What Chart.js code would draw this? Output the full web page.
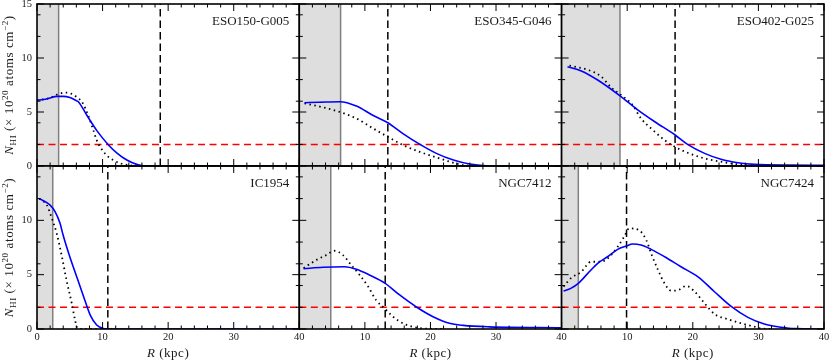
<!DOCTYPE html>
<html>
<head>
<meta charset="utf-8">
<script src="https://cdn.jsdelivr.net/npm/chart.js@4"></script>
<style>
  html, body { margin: 0; padding: 0; background: #fff; }
  #wrap { position: relative; width: 830px; height: 361px; }
  #wrap canvas { position: absolute; left: 0; top: 0; }
</style>
</head>
<body>
<div id="wrap"></div>
<script>
// ---- data ----
const galaxyNames = ['ESO150-G005', 'ESO345-G046', 'ESO402-G025', 'IC1954', 'NGC7412', 'NGC7424'];
const innerEdge = [3.3, 6.3, 8.9, 2.4, 4.8, 2.55];          // kpc, grey shaded zone
const opticalRadius = [18.8, 13.5, 17.3, 10.8, 13.1, 9.9];  // kpc, black dashed line
const limitNHI = 2;                                         // red dashed line

// blue = observed profile, dotted = model profile (R in kpc, N in 1e20 cm^-2)
const eso150R = [0, 1, 2, 3, 4, 5, 6, 6.3, 7.6, 9.1, 10.9, 12.2, 13.7, 15.2, 16.2, 20, 30, 40];
const eso150N = [6.1, 6.15, 6.3, 6.45, 6.45, 6.35, 6.05, 5.95, 4.7, 3.3, 1.95, 1.2, 0.55, 0.15, 0.02, 0, 0, 0];
const eso150ModR = [0, 2, 3, 4.3, 5.2, 5.8, 7.0, 7.8, 8.6, 9.1, 9.6, 10.6, 11.6, 12.7, 13.7, 15, 20, 28];
const eso150ModN = [6.1, 6.3, 6.6, 6.8, 6.7, 6.5, 5.8, 4.7, 3.3, 2.4, 1.8, 1.0, 0.55, 0.25, 0.1, 0.02, 0, 0];

const eso345R = [0.8, 3, 6.2, 8.7, 11.2, 13.5, 15.8, 18.4, 20.9, 23.5, 26, 28.5, 32, 40];
const eso345N = [5.86, 5.9, 5.95, 5.55, 4.7, 4.0, 3.0, 2.0, 1.17, 0.55, 0.18, 0.03, 0, 0];
const eso345ModR = [0.8, 3.6, 6.2, 8.7, 11.2, 13.5, 15.8, 18.4, 20.9, 23.5, 25.5, 28];
const eso345ModN = [5.8, 5.43, 5.0, 4.4, 3.5, 2.7, 1.94, 1.3, 0.8, 0.3, 0.05, 0];

const eso402R = [0.9, 3.0, 5.5, 8.9, 11.6, 14.2, 17.3, 19.2, 21.8, 24.3, 26.9, 29.4, 34.5, 40];
const eso402N = [9.2, 8.8, 7.96, 6.5, 5.2, 4.1, 2.87, 2.0, 1.17, 0.62, 0.3, 0.15, 0.08, 0.07];
const eso402ModR = [1.2, 4.0, 6.0, 7.5, 9.0, 10.8, 12.1, 13.6, 15.7, 17.2, 19.2, 21.8, 24.3, 26.9, 28.4, 30];
const eso402ModN = [9.3, 8.9, 8.3, 7.3, 6.6, 5.65, 4.4, 3.5, 2.4, 1.8, 1.23, 0.7, 0.4, 0.15, 0.05, 0];

const ic1954R = [0.35, 2.0, 2.75, 3.5, 4.0, 5.0, 6.06, 7.1, 8.1, 9.1, 10.1, 11, 40];
const ic1954N = [12.0, 11.4, 10.8, 9.75, 8.6, 6.65, 4.8, 3.0, 1.3, 0.37, 0.05, 0, 0];
const ic1954ModR = [0.35, 1.5, 2.2, 3.0, 3.8, 4.5, 5.3, 5.8, 6.15, 7, 12];
const ic1954ModN = [12.0, 11.4, 10.3, 8.8, 6.65, 4.5, 2.36, 0.83, 0.1, 0, 0];

const ngc7412R = [0.65, 3.6, 6.9, 8.7, 10.7, 13.1, 15.3, 17.8, 20.4, 22.9, 25, 29, 40];
const ngc7412N = [5.55, 5.68, 5.73, 5.5, 4.97, 4.2, 3.13, 2.05, 1.13, 0.52, 0.33, 0.2, 0.12];
const ngc7412ModR = [0.65, 2.6, 4.1, 5.4, 6.65, 7.9, 9.2, 10.5, 11.7, 13.1, 14.3, 15.8, 17.3, 19, 22];
const ngc7412ModN = [5.6, 6.35, 6.8, 7.2, 6.8, 5.9, 4.97, 3.9, 2.67, 1.84, 1.13, 0.52, 0.2, 0.05, 0];

const ngc7424R = [0.3, 1.4, 2.55, 4.0, 5.5, 7.0, 8.55, 9.9, 10.8, 12.1, 13.65, 15.7, 18.2, 20.8, 23.3, 25.9, 28.4, 30.9, 33.5, 35.5, 40];
const ngc7424N = [3.5, 3.74, 4.2, 5.12, 6.04, 6.65, 7.33, 7.64, 7.82, 7.73, 7.33, 6.65, 5.73, 4.8, 3.43, 2.05, 1.07, 0.46, 0.16, 0.03, 0];
const ngc7424ModR = [0.3, 1.4, 3.0, 4.5, 6.0, 7.3, 8.55, 9.6, 10.3, 11.9, 12.9, 13.65, 14.7, 15.7, 16.7, 17.8, 19.0, 20.3, 21.8, 23.3, 25.4, 27.4, 29.4, 30.4, 32];
const ngc7424ModN = [3.9, 4.66, 5.27, 6.19, 6.19, 6.65, 7.57, 8.56, 9.26, 9.05, 8.19, 6.96, 5.43, 4.2, 3.52, 3.59, 3.96, 3.43, 2.36, 1.38, 0.89, 0.52, 0.21, 0.05, 0];

const profiles = [
  [eso150R, eso150N, eso150ModR, eso150ModN],
  [eso345R, eso345N, eso345ModR, eso345ModN],
  [eso402R, eso402N, eso402ModR, eso402ModN],
  [ic1954R, ic1954N, ic1954ModR, ic1954ModN],
  [ngc7412R, ngc7412N, ngc7412ModR, ngc7412ModN],
  [ngc7424R, ngc7424N, ngc7424ModR, ngc7424ModN],
];

// ---- layout ----
const W = 830, H = 361;
const colEdges = [37, 299.3, 561.6, 824];
const rowEdges = [4, 166, 329];
const SERIF = '"Liberation Serif", "DejaVu Serif", serif';
const TXT = '#1a1a1a';

function pts(rs, ns) {
  return rs.map((r, i) => ({ x: r, y: ns[i] }));
}

// draw a run of text pieces (italic, sub, sup) centred on cx at baseline by
function richText(ctx, runs, cx, by, size, spacing) {
  const fontFor = s => s === 'i' ? `italic ${size}px ${SERIF}`
    : (s === 'sub' || s === 'sup') ? `${Math.round(size * 0.72)}px ${SERIF}` : `${size}px ${SERIF}`;
  const gap = spacing || 0;
  const widthOf = t => ctx.measureText(t).width + gap * t.length;
  let total = 0;
  for (const r of runs) { ctx.font = fontFor(r.s); total += widthOf(r.t); }
  let x = cx - total / 2;
  ctx.textAlign = 'left';
  ctx.textBaseline = 'alphabetic';
  for (const r of runs) {
    ctx.font = fontFor(r.s);
    const dy = r.s === 'sub' ? 3 : r.s === 'sup' ? -5 : 0;
    for (const ch of r.t) {
      ctx.fillText(ch, x, by + dy);
      x += ctx.measureText(ch).width + gap;
    }
  }
}

const yTitle = [
  { t: 'N', s: 'i' }, { t: 'HI', s: 'sub' }, { t: ' (× 10' }, { t: '20', s: 'sup' },
  { t: ' atoms cm' }, { t: '−2', s: 'sup' }, { t: ')' }
];
const xTitle = [{ t: 'R', s: 'i' }, { t: ' (kpc)' }];

const decor = {
  id: 'decor',
  afterDraw(chart, args, opts) {
    const { ctx, chartArea: a, scales: { x, y } } = chart;
    ctx.save();
    ctx.strokeStyle = '#000';
    ctx.lineWidth = 1;
    ctx.beginPath();
    for (let v = 0; v <= 40; v += 2) {
      const px = x.getPixelForValue(v);
      const len = v % 10 === 0 ? 7 : 3.5;
      ctx.moveTo(px, a.bottom); ctx.lineTo(px, a.bottom - len);
      ctx.moveTo(px, a.top); ctx.lineTo(px, a.top + len);
    }
    for (const v of [0, 2, 4, 5, 6, 8, 10, 12, 14, 15]) {
      const py = y.getPixelForValue(v);
      const len = v % 5 === 0 ? 7 : 3.5;
      ctx.moveTo(a.left, py); ctx.lineTo(a.left + len, py);
      ctx.moveTo(a.right, py); ctx.lineTo(a.right - len, py);
    }
    ctx.stroke();
    ctx.lineWidth = 1.6;
    ctx.strokeRect(a.left, a.top, a.right - a.left, a.bottom - a.top);

    ctx.fillStyle = TXT;
    ctx.font = `13px ${SERIF}`;
    ctx.textAlign = 'right';
    ctx.textBaseline = 'middle';
    ctx.fillText(opts.name, a.right - 10, a.top + 17.5);

    if (opts.col === 0) {
      ctx.save();
      ctx.translate(13, (a.top + a.bottom) / 2);
      ctx.rotate(-Math.PI / 2);
      richText(ctx, yTitle, 0, 0, 13, 0.6);
      ctx.restore();
    }
    if (opts.row === 1) {
      richText(ctx, xTitle, (a.left + a.right) / 2, 357, 13, 0.5);
    }
    ctx.restore();
  }
};

// pin each scale box so the plot area lands exactly on the panel rectangle
function pin(size) {
  return s => {
    if (s.isHorizontal()) s.height = size; else s.width = size;
    s.paddingTop = 0; s.paddingBottom = 0; s.paddingLeft = 0; s.paddingRight = 0;
  };
}

const wrap = document.getElementById('wrap');

galaxyNames.forEach((name, i) => {
  const row = Math.floor(i / 3), col = i % 3;
  const cv = document.createElement('canvas');
  cv.width = W; cv.height = H;
  cv.style.width = W + 'px'; cv.style.height = H + 'px';
  wrap.appendChild(cv);

  const [bR, bN, mR, mN] = profiles[i];
  const edge = innerEdge[i], ropt = opticalRadius[i];

  new Chart(cv, {
    type: 'line',
    data: {
      datasets: [
        { data: pts(bR, bN), borderColor: '#0000ff', borderWidth: 1.6, cubicInterpolationMode: 'monotone', order: 1 },
        { data: pts(mR, mN), borderColor: '#000', borderWidth: 1.8, borderDash: [1.5, 3.5], cubicInterpolationMode: 'monotone', order: 2 },
        { data: pts([ropt, ropt], [0, 15]), borderColor: '#000', borderWidth: 1.5, borderDash: [7.5, 4], order: 3 },
        { data: pts([0, 40], [limitNHI, limitNHI]), borderColor: '#ff0000', borderWidth: 1.5, borderDash: [7, 4.5], order: 4 },
        { data: pts([edge, edge], [0, 15]), borderColor: '#808080', borderWidth: 1.5, order: 5 },
        { data: pts([0, edge], [15, 15]), borderWidth: 0, backgroundColor: '#dedede', fill: 'origin', order: 6 },
      ]
    },
    options: {
      responsive: false,
      animation: false,
      devicePixelRatio: 1,
      layout: {
        padding: {
          left: 0, right: W - colEdges[col + 1],
          top: rowEdges[row], bottom: 0
        }
      },
      elements: { point: { radius: 0 }, line: { tension: 0 } },
      plugins: {
        legend: { display: false },
        tooltip: { enabled: false },
        decor: { name, row, col }
      },
      scales: {
        x: {
          type: 'linear', min: 0, max: 40,
          grid: { display: false, drawTicks: false }, border: { display: false },
          ticks: {
            display: row === 1, stepSize: 10, autoSkip: false, maxRotation: 0, padding: 2,
            color: TXT, font: { family: SERIF, size: 10.5 },
            callback: v => (col > 0 && v === 0) ? '' : String(v)
          },
          afterFit: pin(H - rowEdges[row + 1])
        },
        y: {
          type: 'linear', min: 0, max: 15,
          grid: { display: false, drawTicks: false }, border: { display: false },
          ticks: {
            display: col === 0, stepSize: 5, autoSkip: false, padding: 5,
            color: TXT, font: { family: SERIF, size: 10.5 },
            callback: v => (row === 1 && v === 15) ? '' : String(v)
          },
          afterFit: pin(colEdges[col])
        }
      }
    },
    plugins: [decor]
  });
});
</script>
</body>
</html>
